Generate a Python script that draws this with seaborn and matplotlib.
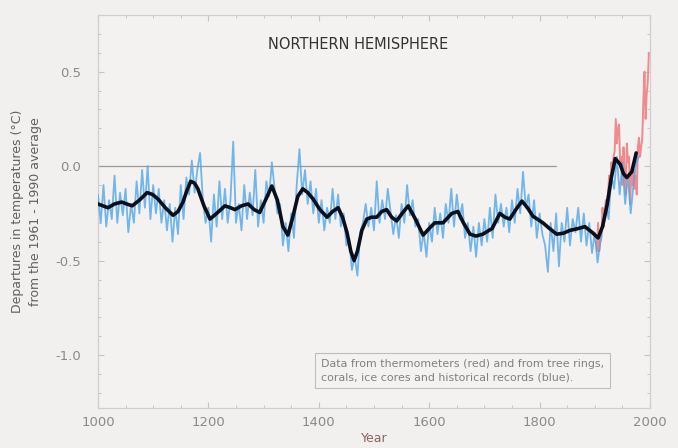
import matplotlib
matplotlib.use("Agg")
import matplotlib.pyplot as plt
import pandas as pd
import seaborn as sns

# Annual proxy reconstruction (tree rings, corals, ice cores, historical records), 5-year sampling
proxy_years = list(range(1000, 1985, 5))
proxy_anom = [
    -0.15, -0.30, -0.10, -0.32, -0.18, -0.28, -0.05, -0.30, -0.14, -0.26,
    -0.12, -0.35, -0.20, -0.30, -0.08, -0.25, -0.02, -0.22, 0.00, -0.28,
    -0.10, -0.25, -0.12, -0.30, -0.18, -0.34, -0.20, -0.40, -0.22, -0.36,
    -0.10, -0.28, -0.06, -0.15, 0.03, -0.14, -0.02, 0.07, -0.18, -0.30,
    -0.22, -0.40, -0.15, -0.32, -0.08, -0.28, -0.12, -0.30, -0.18, 0.13,
    -0.30, -0.20, -0.34, -0.10, -0.28, -0.14, -0.26, -0.02, -0.32, -0.18,
    -0.30, -0.08, -0.16, 0.02, -0.12, -0.25, -0.20, -0.42, -0.30, -0.45,
    -0.25, -0.38, -0.10, 0.09, -0.15, -0.02, -0.20, -0.08, -0.25, -0.12,
    -0.30, -0.18, -0.34, -0.22, -0.30, -0.12, -0.28, -0.15, -0.32, -0.25,
    -0.42, -0.38, -0.55, -0.48, -0.58, -0.35, -0.30, -0.20, -0.32, -0.22,
    -0.34, -0.08, -0.30, -0.18, -0.28, -0.12, -0.24, -0.36, -0.26, -0.38,
    -0.20, -0.30, -0.10, -0.26, -0.18, -0.32, -0.28, -0.45, -0.35, -0.48,
    -0.30, -0.40, -0.22, -0.36, -0.25, -0.38, -0.20, -0.30, -0.12, -0.32,
    -0.15, -0.28, -0.20, -0.38, -0.30, -0.45, -0.32, -0.48, -0.30, -0.42,
    -0.28, -0.40, -0.22, -0.38, -0.15, -0.30, -0.20, -0.32, -0.22, -0.35,
    -0.18, -0.30, -0.12, -0.25, -0.03, -0.22, -0.15, -0.32, -0.18, -0.38,
    -0.25, -0.36, -0.42, -0.56, -0.30, -0.45, -0.25, -0.53, -0.30, -0.40,
    -0.22, -0.42, -0.28, -0.35, -0.22, -0.40, -0.25, -0.42, -0.30, -0.46,
    -0.35, -0.51, -0.40, -0.30, -0.20, -0.28, -0.05, -0.12, 0.05, -0.15,
    0.02, -0.20, -0.05, -0.25, -0.10, 0.02, 0.05,
]

# Smoothed reconstruction (multi-decadal filter)
smooth_years = [
    1000, 1018, 1030, 1043, 1052, 1062, 1075, 1089, 1099, 1109,
    1122, 1136, 1145, 1154, 1161, 1168, 1175, 1181, 1192, 1203,
    1215, 1230, 1240, 1248, 1260, 1272, 1283, 1293, 1305, 1315,
    1325, 1335, 1344, 1352, 1362, 1371, 1380, 1390, 1402, 1415,
    1425, 1435, 1443, 1451, 1458, 1464, 1470, 1478, 1487, 1496,
    1505, 1514, 1523, 1532, 1541, 1551, 1562, 1575, 1589, 1600,
    1610, 1625, 1641, 1652, 1662, 1674, 1685, 1697, 1714, 1728,
    1737, 1746, 1757, 1768, 1778, 1788, 1806, 1818, 1831, 1843,
    1855, 1870, 1882, 1895, 1906, 1914, 1922, 1930, 1937, 1946,
    1952, 1958, 1967, 1975,
]
smooth_anom = [
    -0.20, -0.22, -0.20, -0.19, -0.20, -0.21, -0.18, -0.14, -0.15, -0.175,
    -0.22, -0.26, -0.24, -0.19, -0.13, -0.08, -0.09, -0.12, -0.21, -0.28,
    -0.25, -0.21, -0.22, -0.23, -0.21, -0.20, -0.23, -0.245, -0.17, -0.105,
    -0.18, -0.32, -0.365, -0.28, -0.16, -0.12, -0.14, -0.175, -0.23, -0.27,
    -0.24, -0.22, -0.27, -0.35, -0.45, -0.50, -0.45, -0.34, -0.28, -0.27,
    -0.27, -0.24, -0.23, -0.27, -0.29, -0.25, -0.21, -0.28, -0.365, -0.33,
    -0.30, -0.30, -0.25, -0.24, -0.30, -0.36, -0.37, -0.36, -0.33, -0.25,
    -0.27, -0.28, -0.23, -0.185, -0.22, -0.265, -0.30, -0.33, -0.36, -0.355,
    -0.34, -0.33, -0.32, -0.35, -0.38, -0.32, -0.21, -0.06, 0.04, 0.01,
    -0.04, -0.06, -0.03, 0.07,
]

# Instrumental record (thermometers), 2-year sampling
thermo_years = list(range(1902, 2000, 2))
thermo_anom = [
    -0.40, -0.45, -0.30, -0.45, -0.40, -0.38, -0.22, -0.32, -0.25, -0.18,
    -0.22, -0.15, -0.05, -0.12, 0.02, -0.02, 0.05, 0.08, 0.25, 0.12,
    0.20, 0.22, 0.00, 0.05, -0.10, 0.10, -0.05, -0.15, 0.12, 0.02,
    0.05, -0.20, -0.05, -0.10, 0.02, -0.12, -0.05, -0.15, 0.10, 0.15,
    0.05, 0.10, 0.15, 0.35, 0.50, 0.25, 0.38, 0.45, 0.60,
]

y_ticks = [0.5, 0.0, -0.5, -1.0]
y_tick_labels = ["0.5", "0.0", "-0.5", "-1.0"]
x_ticks = [1000, 1200, 1400, 1600, 1800, 2000]

proxy = pd.DataFrame({"year": proxy_years, "anom": proxy_anom})
smooth = pd.DataFrame({"year": smooth_years, "anom": smooth_anom})
thermo = pd.DataFrame({"year": thermo_years, "anom": thermo_anom})

sns.set_theme(style="white")
plt.rcParams["font.family"] = ["DejaVu Sans"]

bg = "#f1f0ee"
fig = plt.figure(figsize=(6.78, 4.48), dpi=100, facecolor=bg)
ax = fig.add_axes([0.1445, 0.0893, 0.8142, 0.8772])
ax.set_facecolor("#f3f2f0")

ax.axhline(0.0, xmax=0.83, color="#9a9a9a", lw=0.9, zorder=1)

sns.lineplot(data=thermo, x="year", y="anom", ax=ax, color="#f08a8e",
             lw=1.4, estimator=None, zorder=2)
sns.lineplot(data=proxy, x="year", y="anom", ax=ax, color="#52a6e6",
             lw=1.3, alpha=0.8, estimator=None, zorder=3)
sns.lineplot(data=smooth, x="year", y="anom", ax=ax, color="#0a0f1c",
             lw=2.6, estimator=None, zorder=4,
             solid_joinstyle="round", solid_capstyle="round")

ax.set_xlim(1000, 2000)
ax.set_ylim(-1.28, 0.80)
ax.set_xticks(x_ticks)
ax.set_xticklabels([str(v) for v in x_ticks])
ax.set_yticks(y_ticks)
ax.set_yticklabels(y_tick_labels)
ax.set_xticks(range(1000, 2001, 50), minor=True)
ax.set_yticks([v / 10 for v in range(-12, 8)], minor=True)

for side in ["left", "right", "top", "bottom"]:
    ax.spines[side].set_visible(True)
    ax.spines[side].set_color("#cfcfcf")
    ax.spines[side].set_linewidth(0.9)

ax.tick_params(axis="both", which="both", direction="in", colors="#c4c4c4",
               top=True, right=True, bottom=True, left=True)
ax.tick_params(axis="both", which="major", length=4, width=0.8,
               labelsize=9.5, labelcolor="#8a8a8a")
ax.tick_params(axis="both", which="minor", length=2.5, width=0.7)
ax.tick_params(axis="y", which="major", pad=12)
ax.tick_params(axis="x", which="major", pad=6)

ax.set_xlabel("Year", fontsize=9, color="#8a6262", labelpad=2)
ax.set_ylabel("Departures in temperatures (°C)\nfrom the 1961 - 1990 average",
              fontsize=9, color="#5f5f5f", linespacing=1.5, labelpad=10)

ax.text(0.471, 0.924, "NORTHERN HEMISPHERE", transform=ax.transAxes,
        ha="center", va="center", fontsize=10.5, color="#333333")

ax.text(0.404, 0.095,
        "Data from thermometers (red) and from tree rings,\n"
        "corals, ice cores and historical records (blue).",
        transform=ax.transAxes, ha="left", va="center",
        fontsize=7.9, color="#808080", linespacing=1.35,
        bbox=dict(boxstyle="square,pad=0.55", fc="#f3f2f0",
                  ec="#bdbdbd", lw=0.8))

fig.savefig("out.png", dpi=100, facecolor=bg)
